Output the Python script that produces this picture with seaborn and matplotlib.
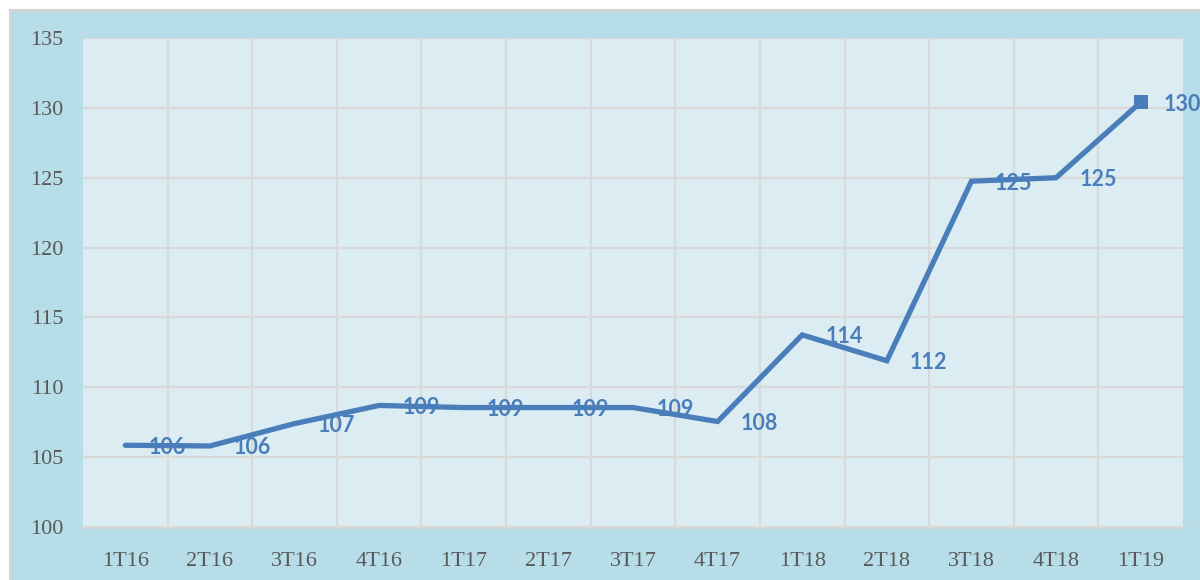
import matplotlib
matplotlib.use("Agg")
import matplotlib.pyplot as plt
import seaborn as sns
import pandas as pd
import numpy as np
from matplotlib.patches import Rectangle

# ---- data ----
quarters = ["1T16", "2T16", "3T16", "4T16", "1T17", "2T17", "3T17",
            "4T17", "1T18", "2T18", "3T18", "4T18", "1T19"]
values = [105.85, 105.8, 107.4, 108.7, 108.55, 108.55, 108.55,
          107.55, 113.75, 111.9, 124.75, 125.0, 130.4]
labels = ["106", "106", "107", "109", "109", "109", "109",
          "108", "114", "112", "125", "125", "130"]
yticks = [100, 105, 110, 115, 120, 125, 130, 135]

df = pd.DataFrame({"quarter": quarters, "value": values})

sns.set_theme(style="white")
plt.rcParams["font.family"] = ["Liberation Serif", "DejaVu Serif"]

W, H = 1200, 580
fig = plt.figure(figsize=(W / 100, H / 100), dpi=100, facecolor="white")

# outer blue panel with grey top/left border
fig.patches.append(Rectangle((9.5 / W, -0.05), 1.1, (H - 9.5) / H + 0.05,
                             transform=fig.transFigure, facecolor="#b7dde8",
                             edgecolor="#d4d4d4", linewidth=2.2, zorder=-10))

left, right, top, bottom = 83, 1183, 38, 527
ax = fig.add_axes([left / W, 1 - bottom / H, (right - left) / W, (bottom - top) / H])
ax.set_facecolor("#dbedf3")

line_color = "#4a7ebb"
sns.lineplot(data=df, x="quarter", y="value", ax=ax, color=line_color,
             linewidth=3.8, sort=False, marker="s", markevery=[len(quarters) - 1],
             markersize=9.5, markeredgewidth=0, solid_capstyle="round",
             solid_joinstyle="miter", zorder=3)

for i, (v, lab) in enumerate(zip(values, labels)):
    ax.annotate(lab, xy=(i, v), xytext=(42, -2), textcoords="offset pixels",
                ha="center", va="center", fontsize=15.5, fontweight="bold",
                color=line_color, family=["Lato", "DejaVu Sans"], zorder=4,
                annotation_clip=False)

ax.set_xlim(-0.5, len(quarters) - 0.5)
ax.set_ylim(100, 135)
ax.set_yticks(yticks)
ax.set_yticklabels([str(t) for t in yticks])
ax.set_xticks(range(len(quarters)))
ax.set_xticklabels(quarters)
ax.set_xticks(np.arange(0.5, len(quarters) - 0.5, 1), minor=True)

ax.grid(False)
ax.grid(True, axis="y", which="major", color="#d9d9d9", linewidth=1.6, zorder=1)
ax.grid(True, axis="x", which="minor", color="#d9d9d9", linewidth=1.6, zorder=1)
ax.set_axisbelow(True)

for s in ["top", "right", "left"]:
    ax.spines[s].set_visible(False)
ax.spines["bottom"].set_color("#d9d9d9")
ax.spines["bottom"].set_linewidth(1.8)

ax.tick_params(axis="both", which="both", length=0, labelsize=16,
               labelcolor="#595959")
ax.tick_params(axis="y", pad=14)
ax.tick_params(axis="x", pad=18)
ax.set_xlabel("")
ax.set_ylabel("")
for t in ax.get_xticklabels() + ax.get_yticklabels():
    t.set_family(["Liberation Serif", "DejaVu Serif"])

fig.savefig("out.png", dpi=100, facecolor="white")
